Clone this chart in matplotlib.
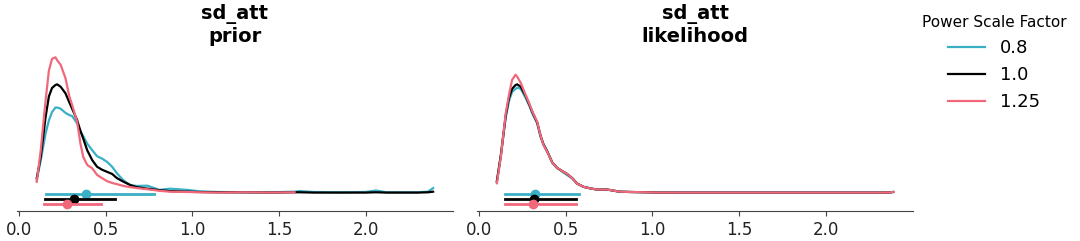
import numpy as np
import matplotlib.pyplot as plt

# power scale factors and colours
factors = ["0.8", "1.0", "1.25"]
colors = ["#3aafc6", "#000000", "#f2687b"]
panels = ["prior", "likelihood"]

# KDE curves
x_grid = [0.102, 0.125, 0.153, 0.172, 0.19, 0.21, 0.22, 0.24, 0.268, 0.29, 0.307,
          0.335, 0.354, 0.37, 0.393, 0.422, 0.45, 0.479, 0.508, 0.537, 0.565, 0.603,
          0.642, 0.68, 0.74, 0.81, 0.87, 0.97, 1.04, 1.15, 1.30, 1.45, 1.59, 1.62,
          1.70, 1.85, 2.00, 2.06, 2.12, 2.30, 2.36, 2.39]

prior_08 = [0.42, 1.08, 1.97, 2.40, 2.68, 2.83, 2.83, 2.79, 2.65, 2.58, 2.54,
            2.30, 2.05, 1.88, 1.63, 1.41, 1.21, 1.13, 1.02, 0.86, 0.64, 0.40,
            0.25, 0.22, 0.23, 0.09, 0.13, 0.09, 0.04, 0.02, 0.01, 0.01, 0.03, 0.05,
            0.02, 0.01, 0.02, 0.07, 0.01, 0.01, 0.03, 0.15]
prior_10 = [0.48, 1.19, 2.52, 3.20, 3.48, 3.58, 3.60, 3.52, 3.30, 3.00, 2.78,
            2.41, 2.05, 1.80, 1.41, 1.08, 0.86, 0.76, 0.69, 0.62, 0.48, 0.36,
            0.25, 0.18, 0.13, 0.08, 0.05, 0.03, 0.02, 0.01, 0.01, 0.00, 0.01, 0.01,
            0.00, 0.00, 0.00, 0.01, 0.00, 0.00, 0.01, 0.03]
prior_125 = [0.36, 1.41, 3.07, 4.06, 4.45, 4.50, 4.40, 4.25, 3.80, 3.20, 2.90,
             2.35, 1.63, 1.19, 0.92, 0.81, 0.59, 0.48, 0.38, 0.32, 0.28, 0.22,
             0.18, 0.15, 0.11, 0.06, 0.03, 0.02, 0.01, 0.00, 0.01, 0.00, 0.01, np.nan,
             np.nan, np.nan, np.nan, np.nan, np.nan, np.nan, np.nan, np.nan]

lik_08 = [0.35, 1.20, 2.50, 3.05, 3.35, 3.45, 3.49, 3.45, 3.15, 2.88, 2.62,
          2.30, 1.85, 1.62, 1.38, 1.00, 0.82, 0.70, 0.58, 0.48, 0.30, 0.19,
          0.14, 0.10, 0.10, 0.03, 0.02, 0.01, 0.00, 0.00, 0.00, 0.00, 0.00, 0.00,
          0.00, 0.00, 0.00, 0.00, 0.00, 0.00, 0.00, 0.02]
lik_10 = [0.38, 1.25, 2.55, 3.15, 3.45, 3.58, 3.60, 3.52, 3.22, 2.92, 2.68,
          2.33, 1.90, 1.62, 1.36, 1.00, 0.82, 0.72, 0.62, 0.48, 0.30, 0.19,
          0.14, 0.10, 0.10, 0.03, 0.02, 0.01, 0.00, 0.00, 0.00, 0.00, 0.00, 0.00,
          0.00, 0.00, 0.00, 0.00, 0.00, 0.00, 0.00, 0.02]
lik_125 = [0.31, 1.19, 2.63, 3.25, 3.75, 3.92, 3.85, 3.65, 3.25, 2.95, 2.70,
           2.35, 1.90, 1.60, 1.35, 1.00, 0.82, 0.72, 0.62, 0.48, 0.30, 0.19,
           0.14, 0.10, 0.10, 0.03, 0.02, 0.01, 0.00, 0.00, 0.00, 0.00, 0.00, 0.00,
           0.00, 0.00, 0.00, 0.00, 0.00, 0.00, 0.00, 0.02]

curves = {"prior": [prior_08, prior_10, prior_125],
          "likelihood": [lik_08, lik_10, lik_125]}

# point estimates and intervals
prior_lo = [0.157, 0.149, 0.144]
prior_hi = [0.780, 0.556, 0.475]
prior_pt = [0.387, 0.316, 0.278]
lik_lo = [0.149, 0.149, 0.149]
lik_hi = [0.575, 0.556, 0.556]
lik_pt = [0.320, 0.316, 0.310]
intervals = {"prior": (prior_lo, prior_hi, prior_pt),
             "likelihood": (lik_lo, lik_hi, lik_pt)}

plt.rcParams["font.family"] = "DejaVu Sans"
fig = plt.figure(figsize=(10.8, 2.41), dpi=100)
ax1 = fig.add_axes([0.0157, 0.1245, 0.4037, 0.668])
ax2 = fig.add_axes([0.4417, 0.1245, 0.4037, 0.668], sharey=ax1)

for ax, panel in zip([ax1, ax2], panels):
    lo, hi, pt = intervals[panel]
    ymax = 4.5
    for i, (ys, c) in enumerate(zip(curves[panel], colors)):
        ax.plot(x_grid, ys, color=c, lw=1.6, label=factors[i])
    for i, c in enumerate(colors):
        yy = -(0.008 + 0.037 * i) * ymax
        ax.plot([lo[i], hi[i]], [yy, yy], color=c, lw=2)
        ax.plot(pt[i], yy, "o", color=c, ms=6)
    ax.set_title("sd_att\n" + panel, fontsize=14, fontweight="bold")
    ax.set_yticks([])
    for s in ["left", "top", "right"]:
        ax.spines[s].set_visible(False)
    ax.spines["bottom"].set_color("#444444")
    ax.set_xticks([0.0, 0.5, 1.0, 1.5, 2.0])
    ax.tick_params(axis="x", labelsize=12, colors="#444444", labelcolor="#222222")

ax1.tick_params(axis="y", left=False, labelleft=False)
ax2.tick_params(axis="y", left=False, labelleft=False)

handles, labels = ax2.get_legend_handles_labels()
fig.legend(handles, labels, title="Power Scale Factor", loc="upper left",
           bbox_to_anchor=(0.8385, 1.004), frameon=False, fontsize=13,
           title_fontsize=11, handlelength=2.05)

fig.savefig("out.png", dpi=100)
